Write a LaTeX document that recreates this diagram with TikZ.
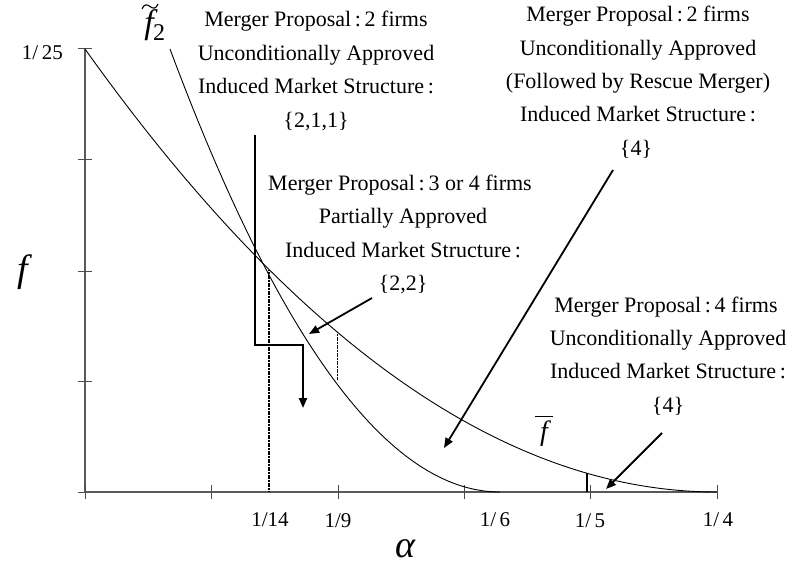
\documentclass[tikz,border=0pt]{standalone}
\usepackage{fontspec}
\setmainfont{Liberation Serif}
\usetikzlibrary{arrows.meta}
\begin{document}
\begin{tikzpicture}[x=1pt,y=-1pt,
  txt/.style={anchor=base,inner sep=0pt,font=\fontsize{22}{26}\selectfont},
  ticklbl/.style={anchor=base,inner sep=0pt,font=\fontsize{21}{24}\selectfont},
  axisline/.style={line width=1.2pt,black!65},
  ticksty/.style={line width=1pt,black!70},
  curve/.style={line width=0.9pt},
  guide/.style={line width=1.1pt,dash pattern=on 1.2pt off 0.4pt},
  bigarrow/.style={line width=1.8pt,-{Triangle[length=10pt,width=8pt]}},
  steparrow/.style={line width=2pt,-{Triangle[length=10pt,width=8pt]}},
]
\useasboundingbox (0,0) rectangle (790,567);

% axes
\coordinate (O) at (85,492);
\coordinate (Ytop) at (85,49);
\coordinate (Xend) at (717,492);
\draw[axisline] (Ytop) -- (O) -- (Xend);
\foreach \yy in {49,160,271,381} \draw[ticksty] (78,\yy) -- (92,\yy);
\draw[ticksty] (78,492) -- (85,492);
\foreach \xx in {85,211,338,464,590,717} \draw[ticksty] (\xx,485) -- (\xx,499);

% tick labels
\node[ticklbl,anchor=base east] (l25) at (63,60) {1/\,25};
\node[ticklbl] (l14) at (270,526) {1/14};
\node[ticklbl] (l9) at (338,527) {1/9};
\node[ticklbl] (l6) at (495,526) {1/\,6};
\node[ticklbl] (l5) at (590,527) {1/\,5};
\node[ticklbl] (l4) at (718,526) {1/\,4};

% axis names
\node[inner sep=0pt,anchor=base,font=\fontsize{38}{38}\selectfont\itshape] (alpha) at (405,557) {α};
\node[inner sep=0pt,font=\fontsize{38}{38}\selectfont\itshape] (fy) at (23,272) {f};

% curves
\draw[curve] plot[domain=85:717,samples=120] (\x,{492-443*((717-\x)/632)^2});
\draw[curve] plot[domain=170:500,samples=100] (\x,{492-443*((500-\x)/330)^2});

% curve labels
\node[inner sep=0pt,font=\fontsize{34}{34}\selectfont\itshape] (f2) at (149,25) {f};
\draw[line width=1.1pt] (142,9) .. controls (144,4) and (147,4) .. (150,6.5) .. controls (153,9) and (156,9) .. (158,4);
\node[inner sep=0pt,anchor=base west,font=\fontsize{24}{24}\selectfont] (f2s) at (153,41) {2};
\node[inner sep=0pt,font=\fontsize{28}{28}\selectfont\itshape] (fb) at (544,434) {f};
\draw[line width=1pt] (535,416) -- (553,416);

% guide lines
\draw[guide] (269,270) -- (269,492);
\draw[guide,line width=0.9pt] (337,332) -- (337,380);
\draw[line width=1.6pt] (587,473) -- (587,492);

% text blocks
\node[txt] (a1) at (316,27) {Merger Proposal\,:\,2 firms};
\node[txt] (a2) at (316,60.5) {Unconditionally Approved};
\node[txt] (a3) at (316,94) {Induced Market Structure\,:};
\node[txt] (a4) at (316,128) {\{2,1,1\}};

\node[txt] (b1) at (638,22) {Merger Proposal\,:\,2 firms};
\node[txt] (b2) at (638,55.3) {Unconditionally Approved};
\node[txt] (b3) at (638,88.6) {(Followed by Rescue Merger)};
\node[txt] (b4) at (638,122) {Induced Market Structure\,:};
\node[txt] (b5) at (636,155.3) {\{4\}};

\node[txt] (c1) at (400,190) {Merger Proposal\,:\,3 or 4 firms};
\node[txt] (c2) at (403,223) {Partially Approved};
\node[txt] (c3) at (403,257) {Induced Market Structure\,:};
\node[txt] (c4) at (403,290) {\{2,2\}};

\node[txt] (d1) at (666,312) {Merger Proposal\,:\,4 firms};
\node[txt] (d2) at (668,345) {Unconditionally Approved};
\node[txt] (d3) at (668,378) {Induced Market Structure\,:};
\node[txt] (d4) at (668,412) {\{4\}};

% arrows
\coordinate (s1) at (255,135);
\coordinate (s2) at (255,345);
\coordinate (s3) at (303,345);
\coordinate (s4) at (303,408);
\draw[steparrow] (s1) -- (s2) -- (s3) -- (s4);

\coordinate (c4s) at (372,298);
\coordinate (c4e) at (309,334);
\draw[bigarrow] (c4s) -- (c4e);

\coordinate (b5s) at (613,170);
\coordinate (b5e) at (444,448);
\draw[bigarrow] (b5s) -- (b5e);

\coordinate (d4s) at (662,433);
\coordinate (d4e) at (606,489);
\draw[bigarrow] (d4s) -- (d4e);
\end{tikzpicture}
\end{document}
